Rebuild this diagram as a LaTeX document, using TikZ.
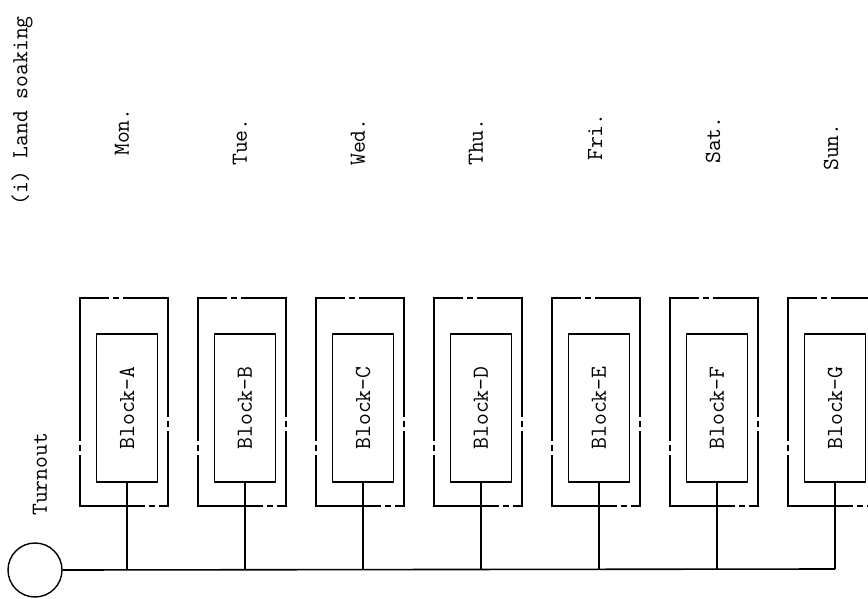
\documentclass[tikz,border=0pt]{standalone}
\usepackage{graphicx}
\newcommand{\chainedge}[3]{%
  \draw[outbox, dash pattern=on #3 off 6pt on 4pt off 6pt on 600pt] #1 -- #2;}
\begin{document}
\begin{tikzpicture}[x=1pt,y=-1pt]
\tikzset{
  lbl/.style={font=\ttfamily\fontsize{23}{26}\selectfont, rotate=90, anchor=west, inner sep=0pt},
  inbox/.style={draw, line width=1.4pt, minimum width=61pt, minimum height=148pt, inner sep=0pt,
    font=\ttfamily\fontsize{23}{26}\selectfont},
  outbox/.style={line width=1.7pt, line cap=rect},
  wire/.style={line width=1.6pt}
}
\useasboundingbox (0,0) rectangle (868,599);
\clip (0,0) rectangle (868,599);
% title
\node[lbl] (title) at (22,206) {(i) Land soaking};
% day labels
\node[lbl] (dA) at (122,156) {Mon.};
\node[lbl] (dB) at (240,166) {Tue.};
\node[lbl] (dC) at (358,166) {Wed.};
\node[lbl] (dD) at (476,166) {Thu.};
\node[lbl] (dE) at (595,161) {Fri.};
\node[lbl] (dF) at (713,164) {Sat.};
\node[lbl] (dG) at (831,171) {Sun.};
% turnout
\node[lbl] (turn) at (40,516) {Turnout};
\node[draw, circle, line width=1.4pt, minimum size=54pt, inner sep=0pt] (circ) at (35,570) {};
% blocks
\foreach \n/\L [count=\k from 0] in {A/A,B/B,C/C,D/D,E/E,F/F,G/G}{
  \pgfmathsetmacro{\s}{127+118*\k}
  \pgfmathsetmacro{\l}{\s-47}
  \pgfmathsetmacro{\r}{\s+41}
  \chainedge{(\l,298)}{(\r,298)}{28pt}
  \chainedge{(\r,298)}{(\r,506)}{118pt}
  \chainedge{(\r,506)}{(\l,506)}{8pt}
  \chainedge{(\l,506)}{(\l,298)}{50pt}
  \node[inbox] (b\n) at (\s,408) {\rotatebox{90}{Block-\L}};
  \coordinate (j\n) at (\s,569);
  \draw[wire] (b\n.south) -- (j\n);
}
\draw[wire] (circ.east) -- (jG);
\end{tikzpicture}
\end{document}
